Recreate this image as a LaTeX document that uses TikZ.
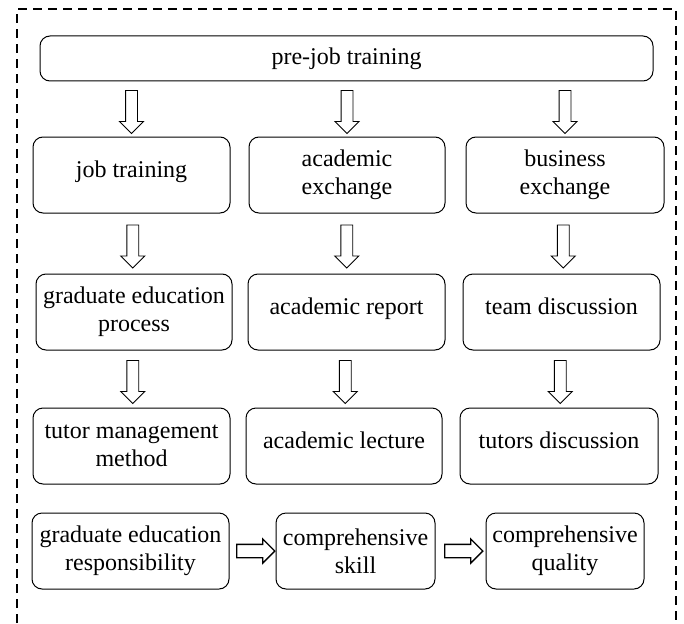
\documentclass[tikz,border=0pt]{standalone}
\usepackage{fontspec}
\setmainfont{Liberation Serif}
\usepackage{tikz}
\usetikzlibrary{shapes.arrows,positioning}

\begin{document}
\begin{tikzpicture}[x=1pt,y=-1pt,
    box/.style={draw, rounded corners=10pt, line width=1pt, align=center,
        inner sep=0pt, font=\fontsize{24}{28}\selectfont, minimum height=76pt},
    oneline/.style={text depth=12pt},
    downarr/.style={draw, single arrow, line width=0.9pt, rotate=-90,
        minimum height=43pt, inner xsep=0pt, inner ysep=5.5pt,
        single arrow head extend=6pt, single arrow head indent=0pt},
    rightarr/.style={draw, single arrow, line width=1.3pt,
        minimum height=38pt, inner xsep=0pt, inner ysep=6pt,
        single arrow head extend=5.5pt, single arrow head indent=0pt},
    border/.style={line width=2pt, dash pattern=on 9pt off 6pt}]
    \useasboundingbox (0,0) rectangle (684,623);
    % outer frame, open at the bottom
    \draw [border] (17,623) |- (676,9) -- (676,623);
    % nodes
    \node [box, minimum width=613pt, minimum height=45pt] (pre) at (346.5,58.5) {pre-job training};
    \node [box, oneline, minimum width=197pt] (job) at (131.5,175) {job training};
    \node [box, minimum width=196pt] (acex) at (347,175) {academic\\exchange};
    \node [box, minimum width=198pt] (busex) at (565,175) {business\\exchange};
    \node [box, minimum width=196pt] (gradp) at (134,312) {graduate education\\process};
    \node [box, oneline, minimum width=197pt] (acrep) at (346.5,312) {academic report};
    \node [box, oneline, minimum width=197pt] (team) at (561.5,312) {team discussion};
    \node [box, minimum width=197pt] (tutor) at (131.5,446) {tutor management\\method};
    \node [box, oneline, minimum width=196pt] (aclec) at (344,446) {academic lecture};
    \node [box, oneline, minimum width=198pt] (tutors) at (559,446) {tutors discussion};
    \node [box, minimum width=197pt] (gradr) at (130.5,551) {graduate education\\responsibility};
    \node [box, minimum width=159pt] (skill) at (355.5,551) {comprehensive\\skill};
    \node [box, minimum width=158pt] (quality) at (565,551) {comprehensive\\quality};
    % arrows
    \path (pre.south -| job) -- node [downarr] {} (job.north);
    \path (pre.south -| acex) -- node [downarr] {} (acex.north);
    \path (pre.south -| busex) -- node [downarr] {} (busex.north);
    \path (job) -- node [downarr] {} (gradp);
    \path (acex) -- node [downarr] {} (acrep);
    \path (busex) -- node [downarr] {} (team);
    \path (gradp) -- node [downarr] {} (tutor);
    \path (acrep) -- node [downarr] {} (aclec);
    \path (team) -- node [downarr] {} (tutors);
    \path (gradr) -- node [rightarr] {} (skill);
    \path (skill) -- node [rightarr] {} (quality);
\end{tikzpicture}
\end{document}
